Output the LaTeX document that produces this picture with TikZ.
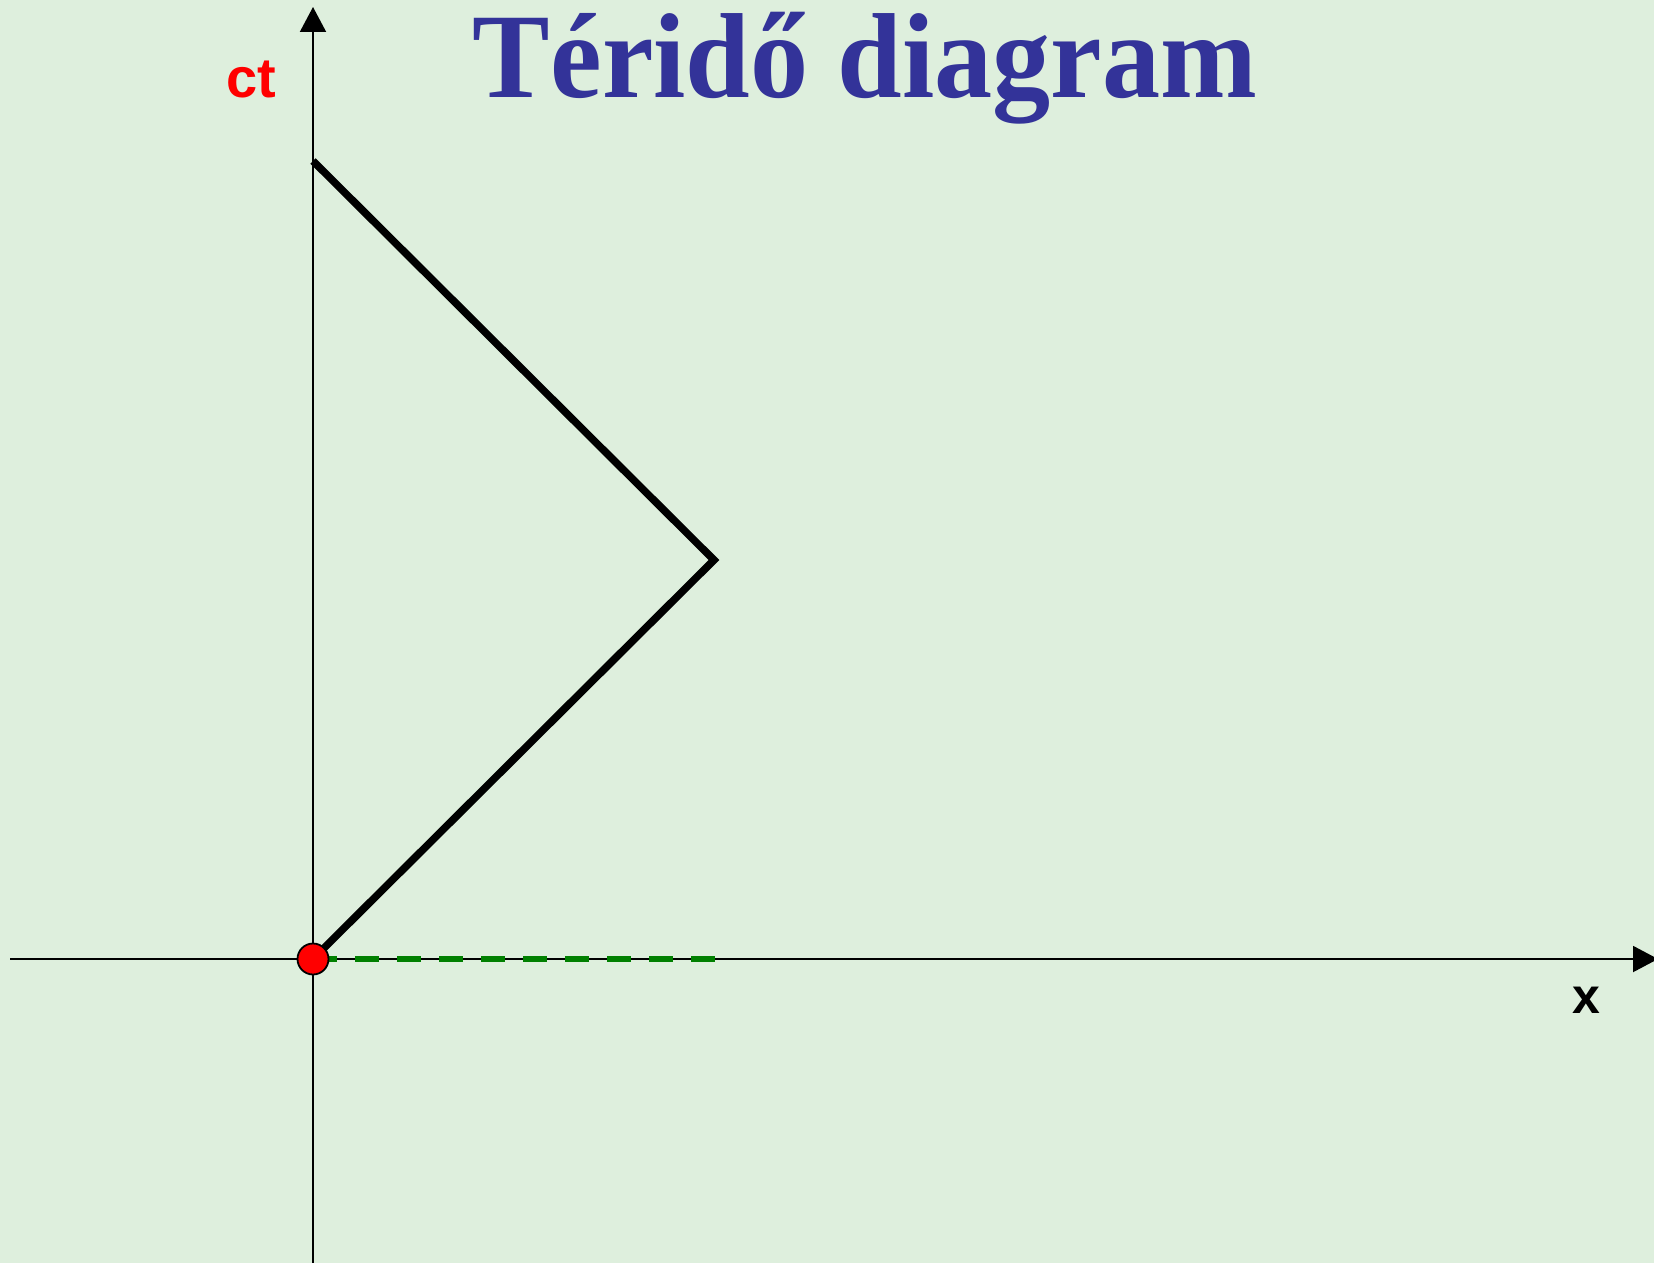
\documentclass[tikz,border=0pt]{standalone}
\usepackage{fontspec}
\setmainfont{Liberation Serif}
\setsansfont{Liberation Sans}
\usetikzlibrary{arrows.meta}
\definecolor{bg}{RGB}{222,239,221}
\definecolor{titleblue}{RGB}{51,51,153}
\definecolor{dgreen}{RGB}{0,128,0}
\tikzset{
  axis/.style={line width=2pt, -{Triangle[length=25pt,width=26pt]}},
  lightpath/.style={line width=7.5pt, line join=miter},
  simline/.style={line width=6pt, dgreen, dash pattern=on 24pt off 18pt},
  event/.style={circle, draw=black, line width=1.8pt, fill=red, minimum size=31pt, inner sep=0pt},
}
\begin{document}
\begin{tikzpicture}[x=1pt,y=-1pt]
\useasboundingbox[fill=bg] (0,0) rectangle (1654,1263);
% axes
\coordinate (xl) at (10,959);
\coordinate (xr) at (1658,959);
\coordinate (yb) at (313,1263);
\coordinate (yt) at (313,7);
\draw[axis] (xl) -- (xr);
\draw[axis] (yb) -- (yt);
% light path
\coordinate (o) at (313,959);
\coordinate (apex) at (714,560);
\coordinate (top) at (313,161);
\coordinate (mirror) at (715,959);
\draw[simline] (o) -- (mirror);
\draw[lightpath] (o) -- (apex) -- (top);
\node[event] (ev) at (o) {};
% labels
\node[text=red, font=\sffamily\bfseries\fontsize{56}{60}\selectfont] (ct) at (251,80) {ct};
\node[text=black, font=\sffamily\bfseries\fontsize{50}{54}\selectfont] (xlab) at (1586,1000) {x};
\node[text=titleblue, font=\bfseries\fontsize{121}{130}\selectfont, xscale=0.96, anchor=base] (title) at (865,97) {Téridő diagram};
\end{tikzpicture}
\end{document}
